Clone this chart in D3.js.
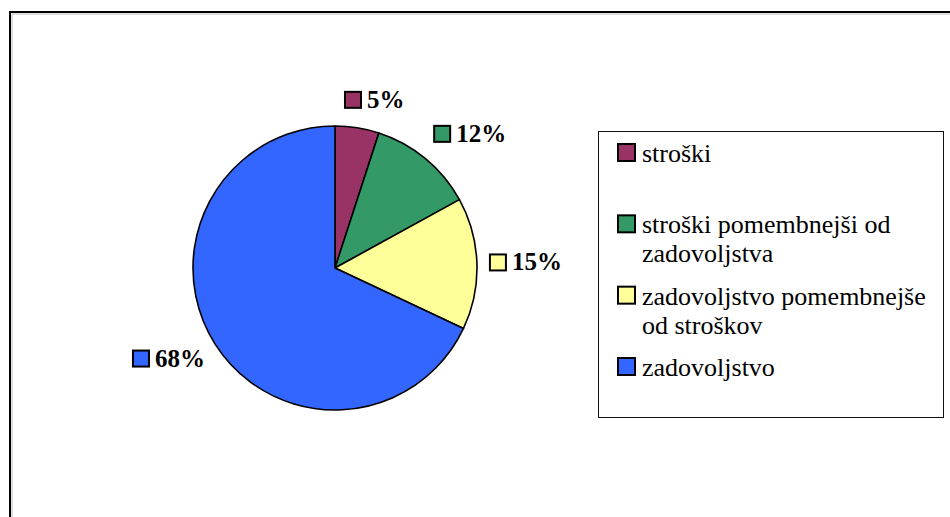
<!DOCTYPE html>
<html>
<head>
<meta charset="utf-8">
<script src="https://cdn.jsdelivr.net/npm/d3@7"></script>
</head>
<body style="margin:0">
<svg id="chart" width="950" height="517"></svg>
<script>
// Survey answers: what matters more, cost or satisfaction
const categories = ["stroški", "stroški pomembnejši od zadovoljstva", "zadovoljstvo pomembnejše od stroškov", "zadovoljstvo"];
const legendLines = [["stroški"], ["stroški pomembnejši od", "zadovoljstva"], ["zadovoljstvo pomembnejše", "od stroškov"], ["zadovoljstvo"]];
const values = [5, 12, 15, 68];
const valueLabels = ["5%", "12%", "15%", "68%"];
const colors = ["#993366", "#339966", "#FFFF99", "#3366FF"];

const W = 950, H = 517;
const svg = d3.select("#chart");
const fontStyle = 'font-family: "Liberation Serif", "Times New Roman" !important';

// chart area frame (runs off the right and bottom edges)
svg.append("rect").attr("x", 10).attr("y", 12).attr("width", W + 20).attr("height", H + 20)
  .attr("fill", "#fff").attr("stroke", "#000").attr("stroke-width", 2);
svg.append("rect").attr("x", 12).attr("y", 14).attr("width", W + 20).attr("height", H + 20)
  .attr("fill", "none").attr("stroke", "#bdbdbd").attr("stroke-width", 1);

// pie
const cx = 335, cy = 268, r = 142;
const pie = d3.pie().sort(null).value(d => d)(values);
const arc = d3.arc().innerRadius(0).outerRadius(r);
const color = d3.scaleOrdinal().domain(d3.range(values.length)).range(colors);

svg.selectAll("path.slice").data(pie).join("path")
  .attr("class", "slice")
  .attr("transform", `translate(${cx},${cy})`)
  .attr("d", arc)
  .attr("fill", (d, i) => color(i))
  .attr("stroke", "#000")
  .attr("stroke-width", 1.6)
  .attr("stroke-linejoin", "round");

// outside-end data labels with key square; width of "NN%" is ~0.5em per digit + 1em for "%"
const labelFont = 25, keySize = 16, keyGap = 5, labelDist = r + 12;
const labelBoxes = pie.map((d, i) => {
  const tw = labelFont * (0.5 * (valueLabels[i].length - 1) + 1);
  const w = keySize + 2 + keyGap + tw, h = keySize + 2;
  const a = (d.startAngle + d.endAngle) / 2;
  const s = Math.sin(a), c = Math.cos(a);
  const px = cx + s * labelDist, py = cy - c * labelDist;
  const fx = Math.max(0, Math.min(1, (1 - 3.2 * s) / 2));
  const left = px - w * fx;
  const top = py - h * (1 + c) / 2 - 6 * c - (c > 0 ? 8 * s * c : 0);
  return { i, left, top, h };
});
svg.selectAll("rect.lblkey").data(labelBoxes).join("rect")
  .attr("class", "lblkey")
  .attr("x", b => b.left + 1).attr("y", b => b.top + 1)
  .attr("width", keySize).attr("height", keySize)
  .attr("fill", b => color(b.i)).attr("stroke", "#000").attr("stroke-width", 2);
svg.selectAll("text.lbl").data(labelBoxes).join("text")
  .attr("class", "lbl")
  .attr("style", fontStyle)
  .attr("font-weight", "bold")
  .attr("font-size", labelFont).attr("fill", "#000")
  .attr("x", b => b.left + keySize + 2 + keyGap).attr("y", b => b.top + b.h - 1)
  .text(b => valueLabels[b.i]);

// legend
const lx = 598, ly = 131, lw = 345, lh = 286;
svg.append("rect").attr("x", lx + 0.5).attr("y", ly + 0.5).attr("width", lw).attr("height", lh)
  .attr("fill", "#fff").attr("stroke", "#111").attr("stroke-width", 1);
const itemY = d3.scaleLinear().domain([0, categories.length - 1]).range([ly + 12, ly + 226]);
svg.selectAll("rect.legkey").data(categories).join("rect")
  .attr("class", "legkey")
  .attr("x", lx + 20).attr("y", (d, i) => itemY(i) + 1)
  .attr("width", 17).attr("height", 17)
  .attr("fill", (d, i) => color(i)).attr("stroke", "#000").attr("stroke-width", 2);
svg.selectAll("text.leg").data(categories).join("text")
  .attr("class", "leg")
  .attr("style", fontStyle)
  .attr("font-size", 26).attr("fill", "#000")
  .attr("x", lx + 44).attr("y", (d, i) => itemY(i) + 19)
  .selectAll("tspan").data((d, i) => legendLines[i]).join("tspan")
  .attr("x", lx + 44).attr("dy", (t, j) => j === 0 ? 0 : 29)
  .text(t => t);
</script>
</body>
</html>
